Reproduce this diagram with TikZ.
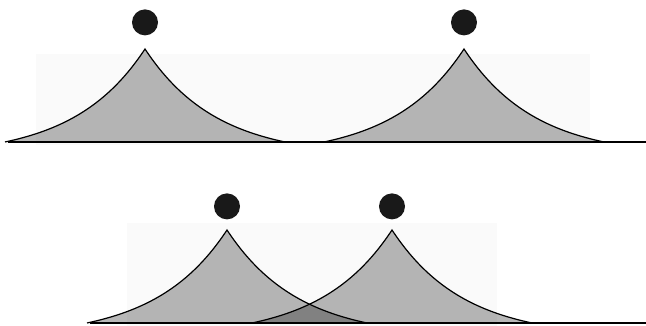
\documentclass[tikz,border=0pt]{standalone}
\usetikzlibrary{positioning}

% profile of one cusp: apex over x=#1, foot on the line y=#2
\newcommand{\cusppath}[2]{plot[domain=-140:140, samples=101]
  ({#1+\x},{#2+93*(exp(-abs(\x)/71)-0.139)/0.861})}

\begin{document}
\begin{tikzpicture}[
    % Global options: one unit is one pixel of the reference
    x=1pt, y=1pt,
    line width=1.2pt,
    ball/.style={circle, fill=black!90, minimum size=26pt, inner sep=0pt},
    hump/.style={fill=black, fill opacity=0.28},
    bgbox/.style={fill=black!2},
  ]
    \useasboundingbox (0,0) rectangle (646,326);

    % --- faint backgrounds ---
    \fill[bgbox] (36,181) rectangle (590,272);
    \fill[bgbox] (127,0) rectangle (497,103);

    % --- top row: two separate cusps ---
    \fill[hump] \cusppath{145}{184} -- cycle;
    \fill[hump] \cusppath{464}{184} -- cycle;
    \draw \cusppath{145}{184};
    \draw \cusppath{464}{184};
    \draw (8,184) -- (646,184);

    \coordinate (apexA) at (145,278);
    \coordinate (apexB) at (464,278);
    \node[ball, above=12pt of apexA] (ballA) {};
    \node[ball, above=12pt of apexB] (ballB) {};

    % --- bottom row: overlapping cusps ---
    \fill[hump] \cusppath{227}{3} -- cycle;
    \fill[hump] \cusppath{392}{3} -- cycle;
    \draw \cusppath{227}{3};
    \draw \cusppath{392}{3};
    \draw (90,3) -- (646,3);

    \coordinate (apexC) at (227,96);
    \coordinate (apexD) at (392,96);
    \node[ball, above=10pt of apexC] (ballC) {};
    \node[ball, above=10pt of apexD] (ballD) {};
  \end{tikzpicture}
\end{document}
